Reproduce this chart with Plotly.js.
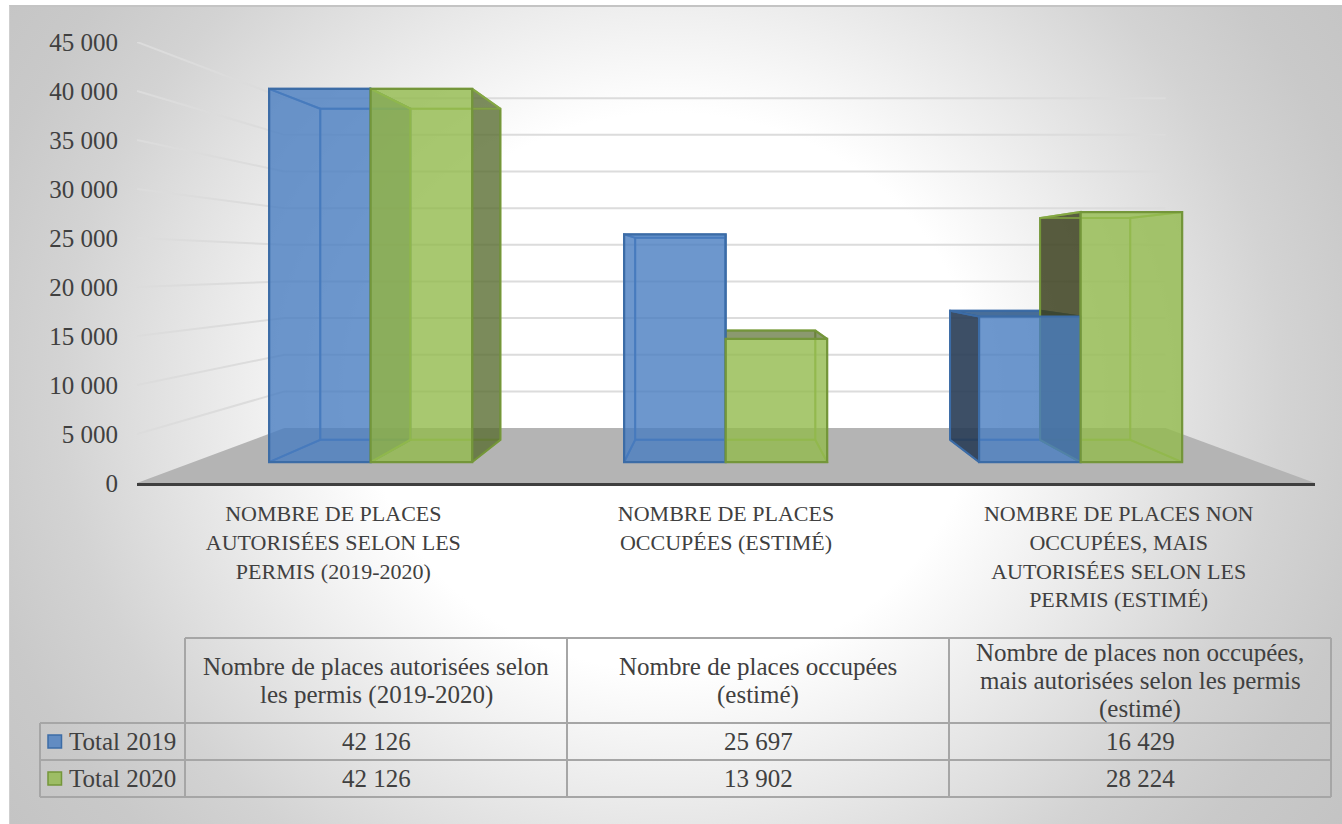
<!DOCTYPE html>
<html>
<head>
<meta charset="utf-8">
<script src="https://cdn.plot.ly/plotly-3.0.1.min.js"></script>
<style>
html,body{margin:0;padding:0;background:#fff;overflow:hidden}
#bg{position:absolute;left:9px;top:5px;width:1333px;height:819px;box-sizing:border-box;border-top:2px solid #c4c4c4;border-left:1px solid #cfcfcf;
background:radial-gradient(ellipse 680px 620px at 661px 385px,#fff 0%,#fff 45%,#d3d3d3 90%,#c9c9c9 105%,#c2c2c2 125%)}
#chart{position:absolute;left:0;top:0;width:1342px;height:824px}
</style>
</head>
<body>
<div id="bg"></div>
<div id="chart"></div>
<script>
// ---- data ----
const categoryLabels = [
  "NOMBRE DE PLACES<br>AUTORISÉES SELON LES<br>PERMIS (2019-2020)",
  "NOMBRE DE PLACES<br>OCCUPÉES (ESTIMÉ)",
  "NOMBRE DE PLACES NON<br>OCCUPÉES, MAIS<br>AUTORISÉES SELON LES<br>PERMIS (ESTIMÉ)"
];
const tableHeaders = [
  ["Nombre de places autorisées selon", "les permis (2019-2020)"],
  ["Nombre de places occupées", "(estimé)"],
  ["Nombre de places non occupées,", "mais autorisées selon les permis", "(estimé)"]
];
const seriesNames = ["Total 2019", "Total 2020"];
const total2019 = [42126, 25697, 16429];
const total2020 = [42126, 13902, 28224];
const yTickValues = [0, 5000, 10000, 15000, 20000, 25000, 30000, 35000, 40000, 45000];
const yTickLabels = ["0", "5 000", "10 000", "15 000", "20 000", "25 000", "30 000", "35 000", "40 000", "45 000"];

// ---- style and perspective ----
const W = 1342, H = 824;
const FONT = "'Liberation Serif', serif";
const TXT = "#404040";
const catIdx = [0, 1, 2];
const VC = 0.99, VV = 22245;          // vanishing point in axis units
const S_FRONT = 0.904, S_BACK = 0.802, S_WALL = 0.748; // depth planes
const BAR_W = 0.286;
const xMin = -0.5, xMax = 2.5, yMax = 45000;
const proj = (x, v, s) => [VC + s * (x - VC), VV + s * (v - VV)];

const looks = [
  { front: "rgba(72,125,192,0.8)", edge: "#3c6ca6", inner: "rgba(60,110,175,0.8)",
    sideR: "rgba(50,70,110,0.7)", sideL: "rgba(40,60,85,0.9)", top: "rgba(40,85,135,0.85)" },
  { front: "rgba(146,186,76,0.8)", edge: "#74963a", inner: "rgba(140,175,70,0.7)",
    sideR: "rgba(90,110,50,0.8)", sideL: "rgba(60,65,30,0.85)", top: "rgba(90,110,50,0.7)" }
];

const traces = [];
function poly(points, fill, line, width) {
  const pts = points.concat([points[0]]);
  traces.push({
    type: "scatter", mode: "lines", x: pts.map(p => p[0]), y: pts.map(p => p[1]),
    fill: fill ? "toself" : "none", fillcolor: fill || "rgba(0,0,0,0)",
    line: { color: line || "rgba(0,0,0,0)", width: line ? (width || 2) : 0 },
    hoverinfo: "skip", showlegend: false, xaxis: "x", yaxis: "y"
  });
}
function gridLine(points) {
  traces.push({
    type: "scatter", mode: "lines", x: points.map(p => p[0]), y: points.map(p => p[1]),
    line: { color: "#dcdcdc", width: 2 }, hoverinfo: "skip", showlegend: false, xaxis: "x", yaxis: "y"
  });
}

// floor and walls
poly([proj(xMin, 0, 1), proj(xMax, 0, 1), proj(xMax, 0, S_WALL), proj(xMin, 0, S_WALL)], "#b4b4b4");
yTickValues.slice(1).forEach(v => gridLine([proj(xMin, v, 1), proj(xMin, v, S_WALL), proj(xMax, v, S_WALL)]));

// back, side and top faces of every bar, behind the front faces
[total2019, total2020].forEach((vals, k) => {
  const L = looks[k];
  vals.forEach((v, c) => {
    const x0 = catIdx[c] - BAR_W + k * BAR_W, x1 = x0 + BAR_W;
    poly([proj(x0, 0, S_BACK), proj(x1, 0, S_BACK), proj(x1, v, S_BACK), proj(x0, v, S_BACK)], "rgba(255,255,255,0.02)", L.inner);
    poly([proj(x0, 0, S_FRONT), proj(x1, 0, S_FRONT), proj(x1, 0, S_BACK), proj(x0, 0, S_BACK)], "rgba(255,255,255,0.02)", L.inner);
    const leftVisible = x0 > VC, rightVisible = x1 < VC, topVisible = v < VV;
    poly([proj(x0, 0, S_FRONT), proj(x0, v, S_FRONT), proj(x0, v, S_BACK), proj(x0, 0, S_BACK)], leftVisible ? L.sideL : "rgba(255,255,255,0.02)", leftVisible ? L.edge : L.inner);
    poly([proj(x1, 0, S_FRONT), proj(x1, v, S_FRONT), proj(x1, v, S_BACK), proj(x1, 0, S_BACK)], rightVisible ? L.sideR : "rgba(255,255,255,0.02)", rightVisible ? L.edge : L.inner);
    poly([proj(x0, v, S_FRONT), proj(x1, v, S_FRONT), proj(x1, v, S_BACK), proj(x0, v, S_BACK)], topVisible ? L.top : "rgba(255,255,255,0.02)", topVisible ? L.edge : L.inner);
  });
});

// front faces: true values on the front-plane axes
[total2019, total2020].forEach((vals, k) => {
  traces.push({
    type: "bar", name: seriesNames[k], x: catIdx, y: vals, xaxis: "x2", yaxis: "y2",
    marker: { color: looks[k].front, line: { color: looks[k].edge, width: 2.2 } },
    hoverinfo: "skip", showlegend: false
  });
});

// ---- table ----
const tableX = [40, 185, 567, 949, 1331];
const tableY = [638, 723, 760, 797];
const px = x => x / W, py = y => 1 - y / H;
const shapes = [];
function tline(x0, y0, x1, y1) {
  shapes.push({ type: "line", xref: "paper", yref: "paper", x0: px(x0), y0: py(y0), x1: px(x1), y1: py(y1),
    line: { color: "#a6a6a6", width: 2 }, layer: "below" });
}
tline(tableX[1], tableY[0], tableX[4], tableY[0]);
tableY.slice(1).forEach(y => tline(tableX[0], y, tableX[4], y));
tline(tableX[0], tableY[1], tableX[0], tableY[3]);
tableX.slice(1).forEach(x => tline(x, tableY[0], x, tableY[3]));

const annotations = [];
function cell(text, x, y, anchor) {
  annotations.push({ text, x: px(x), y: py(y), xref: "paper", yref: "paper", xanchor: anchor || "center", yanchor: "middle",
    showarrow: false, align: "center", font: { family: FONT, size: 25, color: TXT } });
}
const HEADER_PITCH = 28.5;
tableHeaders.forEach((lines, i) => {
  const xc = (tableX[i + 1] + tableX[i + 2]) / 2, yc = (tableY[0] + tableY[1]) / 2;
  lines.forEach((t, j) => cell(t, xc, yc + (j - (lines.length - 1) / 2) * HEADER_PITCH));
});
[total2019, total2020].forEach((vals, k) => {
  const yc = (tableY[k + 1] + tableY[k + 2]) / 2;
  cell(seriesNames[k], 67, yc, "left");
  shapes.push({ type: "rect", xref: "paper", yref: "paper", x0: px(48), x1: px(61.5), y0: py(yc - 6.5), y1: py(yc + 6.5),
    fillcolor: looks[k].front, line: { color: looks[k].edge, width: 1.5 } });
  vals.forEach((v, c) => {
    const label = String(v).replace(/(\d)(\d{3})$/, "$1 $2");
    cell(label, (tableX[c + 1] + tableX[c + 2]) / 2, yc);
  });
});

const layout = {
  width: W, height: H,
  margin: { l: 0, r: 0, t: 0, b: 0 },
  paper_bgcolor: "rgba(0,0,0,0)", plot_bgcolor: "rgba(0,0,0,0)",
  showlegend: false, barmode: "group", bargap: 0.428, bargroupgap: 0,
  font: { family: FONT, size: 23, color: TXT },
  xaxis: { domain: [137 / W, 1315 / W], range: [xMin, xMax], tickmode: "array", tickvals: catIdx, ticktext: categoryLabels,
    showgrid: false, zeroline: false, showline: true, linecolor: "#3f3f3f", linewidth: 3, ticks: "outside", ticklen: 9, tickcolor: "rgba(0,0,0,0)",
    tickangle: 0, tickfont: { family: FONT, size: 22, color: TXT }, anchor: "y", automargin: false },
  yaxis: { domain: [1 - 483 / H, 1 - 42 / H], range: [0, yMax], tickmode: "array", tickvals: yTickValues, ticktext: yTickLabels,
    showgrid: false, zeroline: false, showline: false, ticks: "outside", ticklen: 13, tickcolor: "rgba(0,0,0,0)",
    tickfont: { family: FONT, size: 25, color: TXT }, anchor: "x", automargin: false },
  xaxis2: { overlaying: "x", anchor: "y2", visible: false, showgrid: false, zeroline: false,
    range: [VC + (xMin - VC) / S_FRONT, VC + (xMax - VC) / S_FRONT] },
  yaxis2: { overlaying: "y", anchor: "x2", visible: false, showgrid: false, zeroline: false,
    range: [VV + (0 - VV) / S_FRONT, VV + (yMax - VV) / S_FRONT] },
  shapes, annotations
};
Plotly.newPlot("chart", traces, layout, { displayModeBar: false, staticPlot: true });
</script>
</body>
</html>
